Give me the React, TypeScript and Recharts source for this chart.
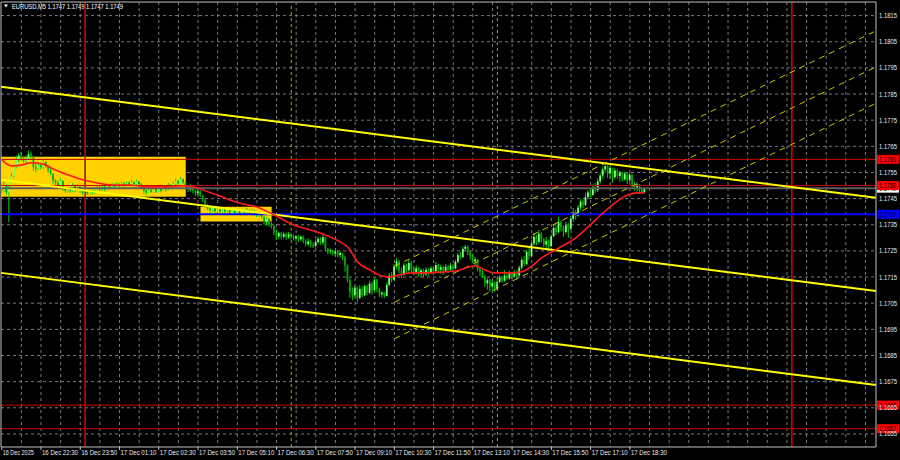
import React from "react";
import {
  ComposedChart,
  Bar,
  Line,
  XAxis,
  YAxis,
  CartesianGrid,
  ReferenceLine,
  ReferenceArea,
} from "recharts";

// EURUSD M5, 16 Dec 21:10 .. 17 Dec 19:00. Prices are pips above 1.1700.
const BASE = 1.17;
const FIRST_OPEN = 49;

const closes = [
  48, 50, 47.5, 49, 53.5, 57, 60, 61.5, 60.5, 59.5,
  60.5, 62, 61, 57, 56.5, 57.8, 57, 59, 57.5, 56,
  54.5, 52, 51, 50, 51.8, 49, 48, 48.8, 48, 50,
  48.5, 49.5, 48, 47, 47.8, 47, 48, 47.2, 48, 49,
  48.5, 49.5, 48.6, 49.8, 49.2, 50.2, 49.6, 50.5, 50, 50.8,
  50.2, 51, 50.4, 51.2, 50.6, 51.5, 50.5, 49.5, 48, 47.4,
  48.2, 47.6, 48.5, 47.8, 48.6, 48, 49.5, 48.6, 50.2, 49.4,
  50.8, 51.6, 50.8, 52.4, 51.2, 49.6, 48.4, 49.5, 48, 47,
  47.8, 46.2, 44.5, 42.5, 41.2, 40.6, 41.2, 40.2, 40.9, 40,
  40.8, 40.2, 40.7, 39.6, 40.4, 39.5, 40.2, 39.4, 40.3, 39.6,
  40.5, 39.8, 40.4, 39.5, 38.6, 39.4, 38, 36, 37.2, 35.2,
  34.5, 32, 30.5, 31.8, 30.4, 31.5, 30.2, 31.4, 30.6, 29.8,
  30.6, 29.4, 30.4, 28.8, 27.6, 28.6, 27.2, 26.8, 28.4, 29.6,
  28.2, 30.2, 26, 24.8, 25.2, 24, 24.8, 23.4, 24.2, 22.6,
  19.5, 14, 9.5, 8, 11, 7, 10.5, 8, 11.5, 9,
  12.5, 10, 13.8, 10.5, 8.4, 9, 7.8, 12, 15.5, 14,
  19, 21, 17.5, 16, 19.5, 17.6, 20.4, 18, 16.6, 18.4,
  16.2, 17.6, 16, 17.8, 16.8, 18.4, 17.2, 19.6, 17.8, 18.8,
  17.4, 19, 17.8, 19.4, 18.2, 20.8, 23.4, 22.6, 25.8, 26.6,
  24.4, 23, 21, 21.8, 18, 17.2, 15.2, 12.6, 13.8, 11.4,
  12.8, 10.6, 13.2, 14.8, 13.6, 15.6, 14.4, 16.6, 15.2, 16.8,
  15.6, 18.6, 21.6, 20, 24.6, 23, 27.8, 30.4, 28.4, 31.6,
  29.4, 27.4, 28.8, 26.8, 30.6, 33.8, 32.2, 36, 34, 32.2,
  34.8, 33.4, 37.2, 39.8, 38.4, 41.6, 43.8, 42.6, 45.6, 47.4,
  46.4, 49.4, 48.2, 51.6, 53.8, 56.2, 57.4, 54.6, 56.8, 53.2,
  55.8, 53.6, 55, 52.4, 54.6, 52, 54.2, 50.8, 49.4, 50.4,
  48.2, 47.4, 49,
];

const highs = [
  51, 51.5, 50.5, 50, 54.8, 58, 61.5, 62.5, 63, 61,
  61.7, 63.5, 63, 61.5, 58.7, 58.7, 58.5, 60, 59.2, 58,
  57, 54.5, 52.5, 52, 52.9, 52, 49.5, 49.5, 49.2, 51,
  50.5, 50.5, 50, 48.3, 60.5, 48.3, 48.5, 48.3, 48.5, 50,
  50.2, 50.2, 50, 50.3, 50.2, 51, 50.8, 51.4, 51, 51.4,
  51.2, 51.6, 51.8, 52.2, 51.6, 52.2, 51.8, 51, 49.8, 48.6,
  49, 48.8, 49.1, 48.8, 49.1, 49, 50.2, 50, 51, 50.6,
  51.6, 52.6, 52.2, 53.3, 52.8, 51.6, 50.2, 50.6, 49.8, 48.5,
  49, 48.2, 46.5, 45, 43, 41.8, 41.8, 41.6, 41.6, 41.4,
  41.5, 41.2, 41.4, 41, 41.2, 40.8, 41, 40.6, 41.1, 40.8,
  41.4, 41, 41.2, 40.7, 40, 40.2, 39.8, 38.4, 38, 37.6,
  36, 34.8, 33, 32.4, 32.2, 32.3, 32, 32.2, 31.8, 31.2,
  31.1, 31, 31.1, 30.8, 29.5, 29.8, 29.2, 28.2, 29.4, 30.5,
  30.2, 31.1, 30.4, 26.1, 25.8, 25.4, 25.4, 25, 25, 24.2,
  23, 19.8, 14.5, 11, 12, 11.5, 12, 11.5, 12.2, 12,
  13.5, 13.2, 14.7, 14.2, 11, 9.6, 9.3, 13, 16.5, 17,
  20, 22.3, 21.5, 18.5, 20.4, 20.2, 21.5, 21, 18.6, 19.4,
  18.9, 18.4, 18.2, 18.8, 18.4, 19.2, 19, 20.8, 20.2, 19.6,
  19.4, 20, 19.6, 20.4, 20, 21.6, 24.2, 24.6, 26.8, 27.3,
  27, 25, 23.8, 22.6, 22, 18.8, 17.8, 15.8, 14.6, 14.2,
  14, 13.4, 14.7, 15.8, 15.4, 17.7, 16.4, 17.4, 17, 17.7,
  17.4, 19.4, 22.6, 23, 25.4, 26.4, 29, 31.9, 31.2, 33,
  32.2, 30, 30.3, 29.4, 31.4, 35, 34.8, 38, 36.6, 34.8,
  36.1, 35.6, 38.4, 41.4, 40.6, 42.6, 44.8, 44.6, 47.2, 48.2,
  48.6, 50.4, 51, 52.8, 54.8, 57.2, 58.2, 57.9, 57.4, 56.8,
  56.7, 56.2, 55.6, 55.2, 55.2, 54.8, 54.9, 54.4, 51.4, 51.2,
  50.6, 49, 49,
];

const lows = [
  47, 47.5, 46.5, 36, 48.5, 53, 56.5, 59, 59.5, 58.5,
  58.5, 60, 60, 55.5, 55, 56, 56.2, 56.5, 56.8, 55,
  54, 50.5, 49.5, 49, 49.5, 48, 47.2, 47.3, 47.2, 47.5,
  47.5, 47.8, 47.2, 46.4, 45.6, 46.4, 46.5, 46.6, 46.8, 47.6,
  48, 48, 47.8, 48.2, 48.6, 49, 49.2, 49.3, 49.3, 49.6,
  49.5, 49.8, 49.8, 50, 49.8, 50.2, 49.6, 48.6, 46.8, 46.4,
  47, 47.2, 47.3, 47.2, 47.4, 47.4, 47.8, 47.6, 48.2, 48.8,
  49.2, 50.2, 50.2, 50.5, 50.5, 48.8, 47.5, 47.8, 47, 46,
  46.2, 45.6, 43.6, 41.4, 40.5, 39.5, 39.8, 39.6, 39.5, 39.5,
  39.6, 39.5, 39.7, 39, 39.2, 38.9, 39, 38.8, 39.1, 39,
  39.2, 39.2, 39.4, 38.6, 37.8, 38, 37.2, 35, 34.8, 34.2,
  33.6, 31, 29.2, 29.6, 29.4, 29.8, 29.3, 29.6, 29.4, 29,
  28.6, 28.4, 28.8, 28, 26.8, 26.8, 26.4, 26.1, 26.4, 27.8,
  27.4, 27.3, 25, 23.6, 23.8, 23.2, 23, 22.6, 22.3, 21.6,
  17, 13, 7, 6.2, 7.5, 5.5, 6.5, 7.4, 7.6, 8,
  8.4, 8.2, 9.5, 9.2, 7.4, 7, 7, 7.6, 11.5, 13,
  13.5, 18, 16.5, 14.7, 15.5, 16.2, 17, 16.4, 15.8, 16,
  15.2, 14.7, 15, 15.4, 15.6, 16.2, 16.4, 16.8, 16.6, 16.2,
  15.8, 16.8, 16.6, 17.2, 17.4, 18, 20.4, 21.8, 22.4, 24.8,
  23.4, 21.6, 20.4, 18.9, 17.2, 15.4, 14.6, 11.2, 10.2, 9.3,
  9.8, 9.3, 10, 12.7, 12.8, 13.2, 13.9, 14, 14.4, 14.8,
  14.2, 15.2, 18, 19.2, 19.6, 21.5, 22.4, 27, 27.2, 27.8,
  28.2, 26.5, 25.4, 25.6, 26.4, 30.3, 31, 31.8, 32.6, 30.4,
  31.4, 30, 33, 36.1, 37, 38, 40.6, 41.4, 42.2, 44.6,
  45.6, 46, 47.2, 47.6, 50.8, 52.6, 54.8, 53, 52.6, 51,
  52.4, 52.6, 51.4, 51.6, 51.8, 50.6, 51.4, 50.2, 48, 47.6,
  47.4, 47.2, 47.4,
];

// red moving average, read at these bar numbers
const maBars = [
  0, 4, 8, 12, 17, 21, 27, 33, 39, 45, 52, 58, 66, 74, 80, 84, 88, 93, 98, 104,
  107, 111, 119, 126, 131, 138, 141, 145, 150, 155, 158, 162, 167, 174, 181, 185,
  193, 197, 201, 208, 212, 215, 220, 227, 234, 239, 245, 250, 255, 259, 262,
];
const maPips = [
  59.8, 57.5, 57.8, 58.7, 58.2, 56.3, 54.1, 52.2, 51, 50.2, 50.2, 49.6, 49.5, 49.9,
  49.1, 47.6, 46.4, 44.5, 43, 41.8, 40.6, 38.8, 34.9, 33, 31.5, 28.4, 26.5, 20.8,
  17.7, 15.4, 15, 15.8, 16.6, 16.6, 17, 17.3, 19.3, 17.7, 16.6, 16.6, 17, 18.5,
  22.3, 26.1, 30, 34.2, 39.5, 43.4, 46.4, 47.2, 47.2,
];

const timeTicks = [0, 16, 32, 48, 64, 80, 96, 112, 128, 144, 160, 176, 192, 208, 224, 240, 256];
const timeLabels = [
  "16 Dec 2025", "16 Dec 22:30", "16 Dec 23:50", "17 Dec 01:10", "17 Dec 02:30",
  "17 Dec 03:50", "17 Dec 05:10", "17 Dec 06:30", "17 Dec 07:50", "17 Dec 09:10",
  "17 Dec 10:30", "17 Dec 11:50", "17 Dec 13:10", "17 Dec 14:30", "17 Dec 15:50",
  "17 Dec 17:10", "17 Dec 18:30",
];
const priceTicks = [
  1.1655, 1.1665, 1.1675, 1.1685, 1.1695, 1.1705, 1.1715, 1.1725, 1.1735,
  1.1745, 1.1755, 1.1765, 1.1775, 1.1785, 1.1795, 1.1805, 1.1815,
];

const daySeparators = [34, 322]; // 17 Dec 00:00, 18 Dec 00:00
const sessionOpens = [118, 202]; // 07:00, 14:00
const redLevels = [1.176, 1.175, 1.1666, 1.1657];
const blueLevel = 1.1739;

// zones: [fromBar, toBar, top, bottom]
const zones = [
  [-0.3, 75, 1.1761, 1.17457],
  [81, 110, 1.17419, 1.17362],
];
// descending channel, price at left edge and at right edge
const solidTrends = [
  [1.17878, 1.17453],
  [1.17522, 1.17097],
  [1.17166, 1.16737],
];
// rising regression channel from bar 160 to right edge
const channelStart = 160;
const channelLines = [
  [1.17191, 1.18092],
  [1.17053, 1.17954],
  [1.16914, 1.17815],
];

const X_MIN = -0.3;
const X_MAX = 356.3;
const Y_MIN = 1.165;
const Y_MAX = 1.18202;

const px = (p: number) => BASE + p / 10000;

const candles = closes.map((c, i) => ({
  i,
  o: px(i === 0 ? FIRST_OPEN : closes[i - 1]),
  h: px(highs[i]),
  l: px(lows[i]),
  c: px(c),
}));
const maData = maBars.map((b, k) => ({ i: b, v: px(maPips[k]) }));
const last = candles[candles.length - 1];
const gridBars = Array.from({ length: 44 }, (_, k) => (k + 1) * 8);

const FONT = "'Liberation Sans', Arial, sans-serif";

function Candle(props: any) {
  const { x, y, width, height, payload } = props;
  if (!payload) return null;
  const { o, h, l, c } = payload;
  const cx = x + width / 2;
  const top = Math.min(y, y + height);
  const span = Math.abs(height);
  const k = h > l ? span / (h - l) : 0;
  const bodyTop = top + (h - Math.max(o, c)) * k;
  const bodyH = Math.max(Math.abs(c - o) * k, 1);
  const up = c >= o;
  return (
    <g>
      <line x1={cx} x2={cx} y1={top} y2={top + span} stroke="#00d000" strokeWidth={1} />
      <rect x={cx - 0.9} y={bodyTop} width={1.8} height={bodyH} fill={up ? "#7dff7d" : "#00a800"} />
    </g>
  );
}

function PriceTag({ viewBox, text, fill }: any) {
  if (!viewBox) return null;
  const right = viewBox.x + viewBox.width;
  const y = viewBox.y;
  return (
    <g>
      <rect x={right + 1} y={y - 4.5} width={22} height={9} fill={fill} />
      <text x={right + 3} y={y + 2.5} fontSize={7} fontFamily={FONT} fill="#000" textLength={17} lengthAdjust="spacingAndGlyphs">
        {text}
      </text>
    </g>
  );
}

function TimeTick({ x, y, payload }: any) {
  const idx = timeTicks.indexOf(payload.value);
  const label = timeLabels[idx];
  return (
    <text x={x + 1} y={y + 5} fontSize={7} fontFamily={FONT} fill="#e8e8e8" textAnchor="start" textLength={idx === 0 ? 31 : 36} lengthAdjust="spacingAndGlyphs">
      {label}
    </text>
  );
}

function PriceTick({ x, y, payload }: any) {
  return (
    <text x={x + 3} y={y + 2.5} fontSize={7} fontFamily={FONT} fill="#e8e8e8" textAnchor="start" textLength={18} lengthAdjust="spacingAndGlyphs">
      {payload.value.toFixed(4)}
    </text>
  );
}

export default function App() {
  const f = (v: number) => v.toFixed(4);
  return (
    <div style={{ position: "fixed", inset: 0, background: "#000" }}>
      <div style={{ position: "absolute", left: 0, top: 0, width: 900, height: 460 }}>
        <ComposedChart width={900} height={460} data={candles} margin={{ top: 2, right: 0, bottom: 0, left: 1 }}>
          <CartesianGrid
            stroke="#7a7a7a"
            strokeDasharray="3 3"
            horizontalValues={priceTicks}
            verticalValues={gridBars}
          />
          <XAxis
            type="number"
            dataKey="i"
            domain={[X_MIN, X_MAX]}
            allowDataOverflow
            ticks={timeTicks}
            interval={0}
            height={13}
            tickSize={3}
            tickMargin={0}
            stroke="#c0c0c0"
            tick={<TimeTick />}
          />
          <YAxis
            orientation="right"
            type="number"
            domain={[Y_MIN, Y_MAX]}
            allowDataOverflow
            ticks={priceTicks}
            interval={0}
            width={24}
            tickSize={0}
            tickMargin={0}
            tickLine={false}
            stroke="#c0c0c0"
            tick={<PriceTick />}
          />
          {zones.map(([x1, x2, top, bottom], k) => (
            <ReferenceArea key={"z" + k} x1={x1} x2={x2} y1={bottom} y2={top} fill="#ffd200" fillOpacity={1} stroke="none" />
          ))}
          {daySeparators.map((b) => (
            <ReferenceLine key={"d" + b} x={b} stroke="#e00000" strokeWidth={1.5} />
          ))}
          {sessionOpens.map((b) => (
            <ReferenceLine key={"s" + b} x={b} stroke="#7fbf00" strokeDasharray="3 3" />
          ))}
          <Bar
            dataKey={(d: any) => [d.l, d.h]}
            barSize={2}
            isAnimationActive={false}
            shape={(p: any) => <Candle {...p} />}
          />
          <ReferenceLine
            y={last.c}
            stroke="#5c5c5c"
            strokeWidth={2}
            label={<PriceTag text={f(last.c)} fill="#ffffff" />}
          />
          {redLevels.map((p) => (
            <ReferenceLine key={"r" + p} y={p} stroke="#c80000" label={<PriceTag text={f(p)} fill="#ff0000" />} />
          ))}
          <ReferenceLine y={blueLevel} stroke="#0000ff" strokeWidth={2} label={<PriceTag text={f(blueLevel)} fill="#0000ff" />} />
          {solidTrends.map(([a, b], k) => (
            <ReferenceLine
              key={"t" + k}
              segment={[{ x: X_MIN, y: a }, { x: X_MAX, y: b }]}
              stroke="#ffff00"
              strokeWidth={2}
            />
          ))}
          {channelLines.map(([a, b], k) => (
            <ReferenceLine
              key={"c" + k}
              segment={[{ x: channelStart, y: a }, { x: X_MAX, y: b }]}
              stroke="#c8c800"
              strokeDasharray="6 5"
            />
          ))}
          <Line
            data={maData}
            dataKey="v"
            type="monotone"
            stroke="#ff1a1a"
            strokeWidth={1.6}
            dot={false}
            isAnimationActive={false}
          />
          <ReferenceLine y={Y_MAX} stroke="#c0c0c0" />
          <ReferenceLine x={X_MIN} stroke="#c0c0c0" />
        </ComposedChart>
        <svg width={300} height={12} style={{ position: "absolute", left: 0, top: 0 }}>
          <polygon points="4,4.5 8,4.5 6,7.5" fill="#ffffff" />
          <text x={12} y={9} fontSize={7.5} fontFamily={FONT} fill="#ffffff" textLength={111} lengthAdjust="spacingAndGlyphs">
            {`EURUSD,M5  ${f(last.o)} ${f(last.h)} ${f(last.l)} ${f(last.c)}`}
          </text>
        </svg>
      </div>
    </div>
  );
}
